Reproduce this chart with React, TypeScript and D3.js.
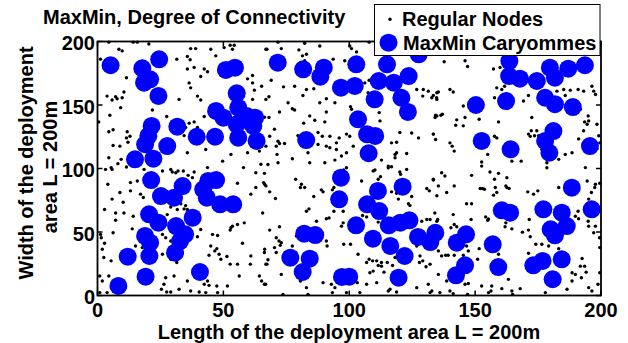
import React from "react";
import * as d3 from "d3";

// Axis ticks (metres)
const xTicks = [0, 50, 100, 150, 200];
const yTicks = [0, 50, 100, 150, 200];

// Regular sensor nodes, [x, y] in metres, grouped by area of the field
const nodesNorthWest: [number, number][] = [
  [4.5, 199.5], [14.2, 199.5], [15.8, 199.5], [20.4, 198.0], [37.0, 194.4], [39.0, 194.4], [45.0, 193.9], [50.3, 195.2],
  [52.7, 197.0], [54.3, 197.0], [53.6, 193.9], [66.9, 193.9], [8.5, 193.9], [9.8, 192.6], [1.2, 186.1], [31.5, 186.1],
  [35.7, 188.2], [36.8, 185.6], [47.0, 188.7], [11.5, 171.4], [38.4, 179.6], [35.7, 178.3], [42.4, 178.3], [43.7, 176.2],
  [59.6, 170.6], [61.6, 173.2], [36.4, 167.4], [37.0, 163.5], [41.0, 172.5], [61.6, 167.4], [65.2, 164.8], [62.3, 161.7],
  [3.8, 157.0], [7.2, 156.5], [5.8, 153.9], [7.8, 154.9], [9.8, 155.7], [10.5, 160.2], [32.4, 154.4], [39.7, 157.0],
  [41.0, 153.9], [61.6, 154.4], [66.9, 154.4], [9.2, 147.9], [21.8, 146.1], [4.9, 141.9], [27.5, 140.9], [42.4, 140.9],
  [66.3, 140.4], [0.5, 136.7], [38.4, 136.7], [36.4, 135.7], [35.0, 132.3], [39.7, 132.3], [6.2, 130.5], [11.8, 128.9],
  [4.5, 128.9], [12.9, 125.4], [11.5, 124.1], [34.4, 125.9], [12.1, 120.7], [6.2, 118.1], [8.9, 117.6], [43.0, 115.0],
  [35.7, 112.4], [53.0, 111.1], [59.6, 112.4], [64.3, 113.7], [66.9, 117.6], [9.4, 107.2], [4.5, 108.5], [5.4, 100.7],
  [8.1, 103.8], [11.5, 101.2], [29.1, 99.3], [18.5, 99.3], [43.7, 100.7], [49.7, 105.8], [58.0, 100.7], [64.9, 103.3],
];

const nodesNorth: [number, number][] = [
  [71.7, 199.5], [82.3, 198.6], [88.3, 196.5], [100.2, 196.5], [100.9, 194.4], [102.9, 191.8], [107.9, 199.5], [67.3, 193.9],
  [73.0, 194.4], [80.0, 193.4], [81.4, 188.7], [83.0, 190.0], [82.3, 184.8], [93.6, 186.1], [98.2, 184.8], [69.0, 169.5],
  [73.9, 164.3], [78.3, 164.8], [83.0, 162.2], [81.6, 157.5], [85.9, 162.8], [106.2, 167.4], [107.9, 169.5], [107.5, 159.6],
  [68.1, 156.5], [75.7, 151.8], [88.3, 151.8], [90.9, 154.9], [94.3, 151.8], [100.5, 148.7], [100.9, 146.6], [72.3, 144.5],
  [77.4, 147.1], [78.3, 146.1], [84.3, 141.4], [86.3, 138.0], [90.9, 144.5], [90.3, 136.7], [81.9, 135.7], [68.1, 140.1],
  [70.3, 131.0], [68.4, 125.4], [71.7, 121.5], [72.3, 119.7], [71.0, 117.6], [74.3, 119.7], [79.6, 125.9], [87.6, 128.4],
  [89.3, 125.4], [92.3, 125.4], [94.9, 120.2], [96.0, 124.1], [98.9, 127.1], [100.2, 125.4], [92.3, 116.3], [90.9, 117.6],
  [94.9, 115.0], [96.9, 109.8], [98.9, 112.4], [101.6, 117.6], [87.6, 118.9], [83.6, 112.4], [71.3, 111.1], [77.4, 107.7],
  [71.7, 104.5], [67.7, 103.2], [84.3, 104.5], [90.3, 104.5], [94.3, 106.6], [112.8, 106.6], [115.5, 101.9], [116.8, 101.4],
  [118.2, 111.1], [118.8, 112.4], [118.2, 108.5], [122.8, 111.8], [116.8, 120.2], [118.8, 120.7], [120.1, 128.4], [124.8, 127.9],
  [127.5, 124.1], [133.4, 127.1], [112.2, 137.5], [111.9, 144.0], [126.8, 162.2], [129.4, 162.2], [131.4, 160.9], [134.8, 159.6],
  [129.2, 157.0], [132.8, 155.7], [134.8, 154.4], [134.8, 141.4], [134.1, 140.1], [109.5, 98.0],
];

const nodesNorthEast: [number, number][] = [
  [137.7, 184.0], [146.0, 184.8], [147.0, 180.3], [157.3, 178.3], [159.9, 179.6], [158.6, 163.5], [160.6, 162.2], [161.7, 164.8],
  [157.7, 155.7], [169.2, 153.1], [171.2, 157.5], [133.4, 157.5], [135.4, 160.2], [134.7, 155.7], [140.0, 162.2], [141.3, 160.2],
  [145.3, 149.2], [146.0, 140.1], [142.7, 138.3], [142.3, 134.1], [145.3, 133.6], [151.6, 138.8], [134.3, 141.9], [136.4, 141.9],
  [137.0, 142.7], [133.4, 127.1], [134.3, 122.8], [140.0, 120.2], [140.9, 117.6], [141.7, 113.7], [152.6, 105.1], [152.6, 101.9],
  [155.0, 111.1], [157.7, 125.4], [158.6, 124.1], [159.3, 136.7], [164.6, 105.8], [168.3, 105.8], [171.2, 127.1], [172.3, 129.7],
  [171.9, 125.3], [174.5, 129.7], [173.6, 125.8], [175.2, 125.8], [176.5, 115.0], [177.9, 115.0], [178.5, 104.5], [183.2, 107.2],
  [185.8, 111.1], [188.5, 112.4], [193.8, 100.7], [198.4, 115.5], [187.8, 161.7], [190.9, 162.2], [193.1, 160.9], [196.4, 164.8],
  [197.1, 160.9], [197.8, 158.3], [194.9, 141.4], [193.5, 136.7], [194.5, 134.9], [195.1, 137.5], [198.4, 134.9], [199.1, 125.8],
  [199.5, 120.2], [191.1, 123.3], [193.1, 129.7], [191.8, 146.6], [185.2, 162.2], [182.5, 160.9], [185.8, 157.5], [172.5, 140.1],
];

const nodesSouthWest: [number, number][] = [
  [3.2, 99.3], [5.8, 99.3], [4.1, 87.6], [13.1, 88.9], [15.8, 90.2], [8.9, 81.1], [13.1, 82.4], [17.1, 79.8],
  [18.2, 77.2], [5.8, 75.9], [2.8, 67.7], [10.2, 73.4], [7.2, 65.0], [7.2, 59.3], [10.5, 65.0], [14.2, 62.4],
  [13.8, 52.5], [6.2, 49.4], [1.2, 48.1], [1.5, 45.5], [2.8, 41.1], [1.9, 36.4], [2.5, 29.9], [5.4, 27.3],
  [0.9, 15.3], [1.9, 11.4], [4.5, 15.3], [3.8, 2.3], [0.9, 2.3], [25.8, 98.0], [29.7, 97.2], [31.1, 96.7],
  [32.0, 98.0], [34.1, 98.0], [36.0, 94.6], [38.4, 97.2], [37.7, 92.8], [27.7, 81.6], [33.1, 72.3], [35.0, 70.8],
  [35.7, 67.7], [34.4, 68.2], [31.7, 67.7], [29.1, 69.7], [27.7, 63.7], [37.0, 55.9], [41.0, 52.0], [39.7, 46.3],
  [25.8, 48.1], [27.1, 45.5], [29.1, 42.9], [33.7, 33.8], [29.1, 28.6], [25.8, 32.5], [17.8, 37.7], [15.1, 39.0],
  [31.5, 26.0], [30.4, 15.3], [27.1, 14.0], [26.4, 8.8], [25.4, 4.9], [27.5, 2.8], [29.1, 2.8], [32.4, 4.9],
  [37.0, 3.5], [35.7, 11.4], [45.7, 48.1], [47.7, 47.3], [45.0, 39.0], [47.4, 36.9], [46.6, 35.1], [48.3, 32.5],
  [44.3, 31.7], [49.0, 28.6], [51.4, 30.7], [52.7, 24.7], [55.6, 24.7], [53.0, 53.3], [52.7, 51.5], [53.6, 54.6],
  [55.6, 55.9], [58.3, 57.2], [57.6, 41.1], [60.9, 31.2], [60.7, 24.7], [66.3, 33.8], [66.9, 24.7], [64.3, 15.3],
  [65.2, 11.4], [66.3, 8.8], [56.3, 15.3], [51.6, 7.5], [43.7, 11.4], [42.4, 8.8], [44.3, 8.0], [40.4, 2.8],
  [43.0, 2.3], [47.7, 2.3], [47.4, 7.5], [55.6, 88.4], [62.9, 96.7], [66.3, 96.2], [66.0, 88.9], [66.9, 86.3],
  [62.9, 85.0], [60.9, 79.8], [65.6, 65.0], [50.6, 75.9],
];

const nodesSouth: [number, number][] = [
  [110.2, 98.8], [115.5, 100.6], [120.1, 97.2], [122.8, 99.3], [120.4, 95.4], [66.4, 87.6], [68.4, 81.6], [70.7, 76.4],
  [78.7, 91.5], [81.0, 87.6], [80.6, 85.0], [82.3, 85.0], [88.9, 83.2], [89.6, 81.6], [85.9, 77.9], [93.3, 83.2],
  [93.9, 85.0], [94.3, 79.8], [97.8, 98.8], [98.9, 100.6], [104.9, 90.2], [111.5, 91.5], [112.4, 93.6], [119.5, 89.4],
  [116.8, 81.6], [118.8, 80.5], [119.5, 75.9], [124.8, 77.9], [130.8, 84.2], [131.8, 82.4], [133.4, 91.0], [134.8, 78.5],
  [123.5, 72.3], [124.1, 70.8], [83.0, 66.3], [84.0, 68.2], [87.0, 58.5], [90.9, 60.4], [92.0, 61.1], [97.6, 66.3],
  [93.9, 66.3], [97.6, 57.2], [96.9, 54.6], [106.9, 61.9], [105.3, 63.0], [111.5, 57.8], [116.2, 44.2], [128.8, 58.5],
  [130.8, 59.8], [132.1, 59.8], [134.8, 58.5], [72.3, 54.1], [68.4, 51.5], [71.0, 45.5], [72.1, 42.9], [73.0, 41.6],
  [72.6, 39.5], [70.3, 37.7], [71.0, 33.8], [66.4, 36.4], [67.7, 28.1], [67.3, 24.7], [79.0, 46.8], [77.4, 39.0],
  [90.9, 42.9], [91.2, 39.0], [97.8, 40.3], [100.5, 40.3], [103.5, 32.5], [107.9, 28.6], [106.9, 26.0], [109.3, 27.3],
  [110.9, 27.3], [111.5, 23.6], [112.8, 26.0], [109.5, 19.2], [108.2, 17.9], [112.8, 23.1], [115.1, 26.0], [113.8, 18.4],
  [117.2, 23.6], [118.2, 29.9], [126.8, 39.0], [128.1, 31.2], [129.2, 27.3], [127.9, 26.0], [130.5, 22.6], [132.1, 24.7],
  [131.4, 8.8], [132.8, 3.5], [132.1, 2.3], [126.8, 6.2], [73.0, 16.6], [66.8, 8.8], [80.6, 11.4], [83.0, 6.2],
  [83.6, 0.9], [89.6, 10.1], [92.9, 8.8], [94.3, 6.2], [93.3, 2.3], [98.9, 2.3], [103.2, 10.1], [106.9, 8.8],
  [110.9, 10.1], [115.5, 3.5], [116.2, 4.9], [118.8, 2.8], [73.7, 0.9], [104.2, 2.3],
];

const nodesSouthEast: [number, number][] = [
  [136.7, 96.7], [138.0, 94.1], [133.4, 91.5], [135.4, 86.3], [138.7, 81.1], [141.7, 86.3], [155.9, 97.2], [159.3, 96.2],
  [157.7, 91.5], [162.6, 92.8], [162.2, 86.3], [162.6, 85.0], [163.5, 84.2], [152.0, 84.2], [152.9, 84.2], [153.7, 83.7],
  [158.0, 85.0], [158.6, 81.1], [157.3, 79.0], [170.9, 81.6], [173.2, 79.8], [174.9, 82.4], [178.5, 100.6], [183.2, 85.0],
  [194.5, 90.2], [197.8, 87.6], [197.5, 85.0], [199.5, 88.4], [196.2, 81.1], [195.1, 75.9], [148.6, 94.6], [134.0, 65.0],
  [135.1, 59.8], [141.3, 63.7], [141.7, 55.9], [142.7, 54.1], [140.4, 53.3], [146.6, 72.3], [148.6, 72.3], [148.4, 59.8],
  [154.2, 61.9], [155.0, 59.3], [155.3, 60.3], [161.9, 54.1], [162.2, 57.2], [164.6, 52.5], [168.8, 49.9], [171.5, 59.8],
  [171.2, 51.5], [171.9, 46.3], [174.1, 40.3], [176.5, 40.3], [179.2, 39.0], [183.2, 36.9], [190.9, 66.3], [189.8, 62.4],
  [191.1, 60.4], [194.9, 58.5], [195.1, 54.6], [197.8, 54.6], [197.1, 49.4], [199.4, 45.5], [199.5, 37.7], [135.4, 35.1],
  [136.7, 31.2], [138.3, 31.7], [139.3, 31.7], [141.7, 31.7], [145.3, 31.7], [147.3, 35.1], [146.6, 39.0], [151.6, 36.9],
  [151.0, 28.6], [159.3, 32.5], [163.2, 12.7], [160.6, 5.4], [156.3, 3.5], [156.6, 7.5], [155.3, 2.3], [152.6, 7.5],
  [147.3, 9.5], [146.0, 8.8], [138.7, 11.4], [135.4, 16.6], [136.0, 2.3], [140.0, 3.5], [141.3, 1.5], [147.0, 0.9],
  [164.6, 3.5], [164.9, 0.9], [167.9, 5.4], [171.2, 33.3], [171.2, 27.3], [177.9, 2.3], [186.5, 4.9], [188.5, 11.4],
  [188.5, 17.9], [189.8, 16.6], [191.8, 23.1], [193.5, 23.1], [192.5, 29.1], [194.1, 18.4], [192.2, 14.0], [195.1, 6.2],
  [196.4, 3.5], [198.8, 8.8], [199.5, 17.9],
];

// Cluster heads elected by MaxMin, [x, y] in metres
const caryommesWest: [number, number][] = [
  [5.2, 181.3], [17.8, 178.9], [24.5, 186.0], [20.9, 170.2], [18.5, 167.6], [24.2, 157.1], [51.0, 177.6], [54.6, 179.4],
  [55.3, 159.2], [47.1, 145.3], [50.0, 140.0], [55.9, 147.9], [59.3, 141.3], [62.6, 140.0], [55.3, 134.8], [61.9, 133.5],
  [55.9, 124.3], [63.2, 121.7], [21.5, 133.5], [31.7, 132.9], [20.2, 125.6], [18.9, 119.1], [39.4, 125.0], [46.7, 125.0],
  [27.7, 117.7], [14.9, 107.2], [22.2, 107.7], [21.3, 90.9], [25.2, 78.3], [33.8, 86.2], [30.4, 77.0], [42.0, 83.6],
  [47.1, 90.9], [44.0, 90.2], [43.4, 77.0], [48.7, 71.8], [53.9, 71.8], [20.5, 63.9], [24.2, 57.3], [31.2, 54.7],
  [37.8, 61.3], [34.8, 48.2], [32.8, 42.9], [18.9, 46.9], [20.9, 41.6], [12.0, 30.6], [20.6, 31.1], [30.8, 33.7],
  [40.7, 18.5], [19.1, 14.8], [8.3, 7.5],
];

const caryommesCentre: [number, number][] = [
  [71.6, 183.3], [81.7, 178.1], [89.9, 179.4], [88.5, 172.3], [102.8, 182.0], [96.7, 163.6], [102.2, 165.0], [115.0, 182.0],
  [111.7, 168.9], [117.7, 167.6], [123.6, 172.8], [120.7, 155.7], [110.1, 154.5], [123.3, 144.5], [127.6, 189.9], [103.5, 138.7],
  [107.1, 126.9], [110.3, 125.6], [107.7, 112.0], [82.9, 122.4], [96.7, 92.8], [96.0, 75.7], [111.4, 82.3], [121.2, 85.7],
  [107.1, 71.8], [111.9, 66.5], [102.7, 55.3], [115.7, 55.3], [120.3, 57.3], [123.9, 59.2], [109.4, 44.7], [116.3, 39.0],
  [122.0, 31.1], [127.3, 46.1], [132.2, 42.1], [134.2, 49.4], [82.1, 48.7], [86.5, 47.6], [76.6, 29.8], [84.3, 29.0],
  [81.5, 18.5], [97.1, 14.6], [100.0, 14.8], [119.6, 14.0],
];

const caryommesEast: [number, number][] = [
  [163.6, 184.6], [163.5, 172.8], [167.8, 170.7], [174.5, 168.9], [179.7, 179.4], [187.0, 178.6], [193.6, 181.3], [181.7, 171.5],
  [177.8, 155.7], [181.7, 150.6], [150.3, 150.0], [162.3, 153.1], [188.8, 148.4], [152.6, 121.7], [164.1, 115.1], [181.1, 129.5],
  [177.8, 121.7], [179.5, 112.4], [195.6, 117.7], [188.4, 84.9], [160.6, 67.1], [163.9, 65.2], [177.1, 67.9], [184.4, 65.2],
  [186.4, 54.7], [180.0, 52.1], [181.7, 47.4], [196.3, 67.9], [146.4, 48.2], [142.7, 41.6], [157.0, 40.3], [146.0, 23.8],
  [142.4, 15.9], [159.2, 22.4], [173.1, 23.8], [176.8, 27.2], [184.4, 28.5], [180.8, 12.8],
];

const regularNodes = [
  ...nodesNorthWest, ...nodesNorth, ...nodesNorthEast,
  ...nodesSouthWest, ...nodesSouth, ...nodesSouthEast,
];
const caryommes = [...caryommesWest, ...caryommesCentre, ...caryommesEast];

const FONT = '"Liberation Sans", Arial, Helvetica, sans-serif';
const BLUE = "#0000ff";

export default function App() {
  const width = 628;
  const height = 343;
  const x = d3.scaleLinear().domain([0, 200]).range([97.5, 601]);
  const y = d3.scaleLinear().domain([0, 200]).range([295.5, 41.5]);
  const [x0, x1] = x.range();
  const [y0, y1] = y.range();
  const tickLen = 5;
  const textStyle = { fontFamily: FONT, fontWeight: 700, fontSize: 20, fill: "#000" } as const;

  return (
    <svg
      width={width}
      height={height}
      viewBox={`0 0 ${width} ${height}`}
      style={{ position: "absolute", left: 0, top: 0, background: "#fff" }}
    >
      <rect x={0} y={0} width={width} height={height} fill="#fff" />

      {/* regular nodes */}
      <g>
        {regularNodes.map(([px, py], i) => (
          <circle key={`n${i}`} cx={x(px)} cy={y(py)} r={1.7} fill="#000" />
        ))}
      </g>

      {/* MaxMin cluster heads */}
      <g>
        {caryommes.map(([px, py], i) => (
          <circle key={`c${i}`} cx={x(px)} cy={y(py)} r={9} fill={BLUE} />
        ))}
      </g>

      {/* axes box with inward ticks */}
      <rect x={x0} y={y1} width={x1 - x0} height={y0 - y1} fill="none" stroke="#000" strokeWidth={1.8} />
      {xTicks.map((t) => (
        <g key={`xt${t}`}>
          <line x1={x(t)} x2={x(t)} y1={y0} y2={y0 - tickLen} stroke="#000" strokeWidth={1.5} />
          <line x1={x(t)} x2={x(t)} y1={y1} y2={y1 + tickLen} stroke="#000" strokeWidth={1.5} />
          <text x={x(t)} y={316.5} textAnchor="middle" style={textStyle}>
            {t}
          </text>
        </g>
      ))}
      {yTicks.map((t) => (
        <g key={`yt${t}`}>
          <line x1={x0} x2={x0 + tickLen} y1={y(t)} y2={y(t)} stroke="#000" strokeWidth={1.5} />
          <line x1={x1} x2={x1 - tickLen} y1={y(t)} y2={y(t)} stroke="#000" strokeWidth={1.5} />
          <text x={95} y={y(t) + 8.5} textAnchor="end" style={textStyle}>
            {t}
          </text>
        </g>
      ))}

      {/* labels */}
      <text x={43} y={24} style={textStyle}>
        MaxMin, Degree of Connectivity
      </text>
      <text x={349} y={338.5} textAnchor="middle" style={textStyle}>
        Length of the deployment area L = 200m
      </text>
      <text transform="translate(33,163) rotate(-90)" textAnchor="middle" style={textStyle}>
        Width of the deployment
      </text>
      <text transform="translate(57,167) rotate(-90)" textAnchor="middle" style={textStyle}>
        area L = 200m
      </text>

      {/* legend */}
      <g>
        <rect x={374.5} y={4.5} width={225.5} height={51} fill="#fff" stroke="#000" strokeWidth={1} />
        <circle cx={390} cy={19.3} r={1.7} fill="#000" />
        <text x={402} y={26} style={textStyle}>
          Regular Nodes
        </text>
        <circle cx={388.5} cy={42.7} r={9} fill={BLUE} />
        <text x={403} y={50} style={textStyle}>
          MaxMin Caryommes
        </text>
      </g>
    </svg>
  );
}
